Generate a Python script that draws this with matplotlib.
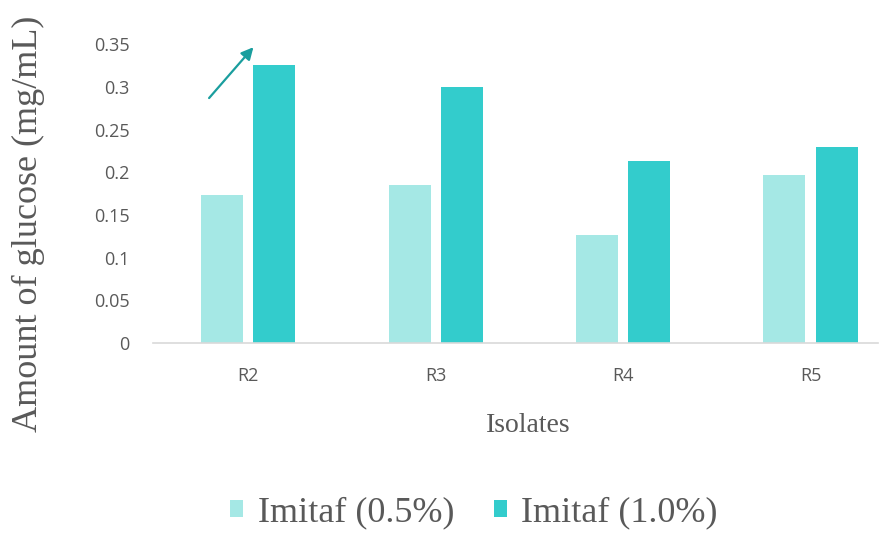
import numpy as np
import matplotlib.pyplot as plt

# data
isolates = ['R2', 'R3', 'R4', 'R5']
imitaf_05 = [0.173, 0.185, 0.126, 0.197]
imitaf_10 = [0.326, 0.300, 0.213, 0.230]
series_names = ['Imitaf (0.5%)', 'Imitaf (1.0%)']
y_ticks = [0, 0.05, 0.1, 0.15, 0.2, 0.25, 0.3, 0.35]
y_tick_labels = ['0', '0.05', '0.1', '0.15', '0.2', '0.25', '0.3', '0.35']

light = '#a5e8e5'
dark = '#33cccc'
grey = '#595959'

fig = plt.figure(figsize=(8.81, 5.33), dpi=100)
ax = fig.add_axes([0.174, 0.3565, 0.8226, 0.5605])

x = np.arange(len(isolates))
w = 0.224
ax.bar(x - 0.139, imitaf_05, w, color=light, label=series_names[0])
ax.bar(x + 0.139, imitaf_10, w, color=dark, label=series_names[1])

# arrow pointing to the R2 1.0% bar
ax.annotate('', xy=(0.037, 0.349), xytext=(-0.219, 0.2845),
            arrowprops=dict(arrowstyle='-|>', color='#1a9e9e', lw=1.6,
                            mutation_scale=18), annotation_clip=False)

ax.set_xlim(-0.507, 3.36)
ax.set_ylim(0, 0.35)
ax.set_xticks(x)
ax.set_xticklabels(isolates, fontsize=13, color=grey, family='Open Sans')
ax.set_yticks(y_ticks)
ax.set_yticklabels(y_tick_labels, fontsize=13, color=grey, family='Open Sans')
ax.tick_params(length=0)
ax.tick_params(axis='y', pad=17)
ax.tick_params(axis='x', pad=17)
for s in ['top', 'right', 'left']:
    ax.spines[s].set_visible(False)
ax.spines['bottom'].set_color('#d9d9d9')
ax.spines['bottom'].set_linewidth(1.2)

ax.set_ylabel('Amount of glucose (mg/mL)', fontsize=26, color=grey,
              family='Liberation Serif')
ax.yaxis.set_label_coords(-0.15, 0.4)
ax.set_xlabel('Isolates', fontsize=20, color=grey, family='Liberation Serif')
ax.xaxis.set_label_coords(0.517, -0.235)

fig.legend(loc='center', bbox_to_anchor=(474/881, 1-513/533), ncol=2,
           frameon=False, prop={'family': 'Liberation Serif', 'size': 26},
           labelcolor=grey, handlelength=0.36, handleheight=0.36,
           handletextpad=0.4, columnspacing=1.1)

fig.savefig('out.png', dpi=100)
